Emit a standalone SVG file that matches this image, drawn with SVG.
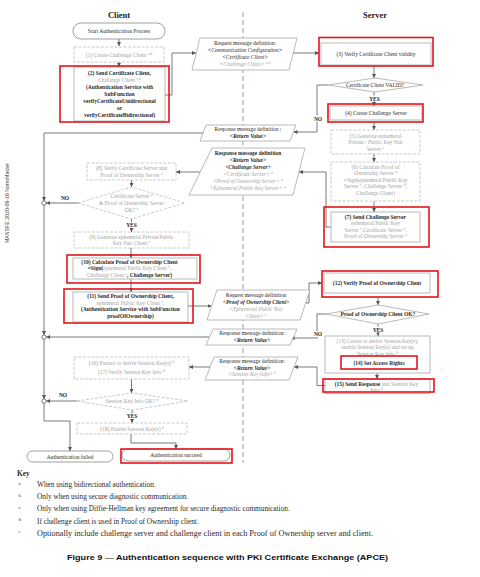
<svg xmlns="http://www.w3.org/2000/svg" width="480" height="577" viewBox="0 0 480 577">
<defs>
<style>
.t{font-family:"Liberation Serif","DejaVu Serif",serif;font-size:5.5px;fill:#2a2a2a;text-anchor:middle}
.g{fill:#a3a3a3}
.b{font-weight:bold}
.i{font-style:italic}
.s{font-size:3.8px}
.box{fill:#fff;stroke:#a8a8a8;stroke-width:0.8}
.dbox{fill:#fff;stroke:#bcbcbc;stroke-width:0.8;stroke-dasharray:3 1.5}
.red{fill:none;stroke:#e4151d;stroke-width:1.6}
.ln{fill:none;stroke:#555;stroke-width:0.8}
.lane{stroke:#9c9c9c;stroke-width:1;stroke-dasharray:5 3}
.lbl{font-family:"Liberation Serif","DejaVu Serif",serif;font-size:5.5px;font-weight:bold;fill:#2a2a2a;text-anchor:middle}
.key{font-family:"Liberation Serif","DejaVu Serif",serif;font-size:7.3px;fill:#2a2a2a}
.ks{font-family:"Liberation Serif","DejaVu Serif",serif;font-size:4.5px;fill:#2a2a2a}
.ttl{font-family:"Liberation Serif","DejaVu Serif",serif;font-size:8.5px;font-weight:bold;fill:#1a1a1a;text-anchor:middle}
</style>
<marker id="ah" viewBox="0 0 6 6" refX="6" refY="3" markerWidth="4" markerHeight="4" orient="auto" markerUnits="userSpaceOnUse"><path d="M0,0 L6,3 L0,6 z" fill="#555"/></marker>
</defs>
<rect width="480" height="577" fill="#fff"/>
<text transform="translate(8.5,243) rotate(-90)" font-family="Liberation Sans,Arial,sans-serif" font-size="6" fill="#444" textLength="80" lengthAdjust="spacingAndGlyphs">MANSFE  2020-06-16  NormMaster</text>
<line class="lane" x1="243" y1="12" x2="243" y2="463"/>
<text class="ttl" x="119" y="18">Client</text>
<text class="ttl" x="375" y="18">Server</text>

<g id="connectors">
<path class="ln" d="M119,39 V46" marker-end="url(#ah)"/>
<path class="ln" d="M119,62 V67" marker-end="url(#ah)"/>
<path class="ln" d="M165,95 H172 V53 H196" marker-end="url(#ah)"/>
<path class="ln" d="M293,53 H319" marker-end="url(#ah)"/>
<path class="ln" d="M374,66 V78" marker-end="url(#ah)"/>
<path class="ln" d="M328,85 H317 V132 H293.5" marker-end="url(#ah)"/>
<path class="ln" d="M374,92 V106" marker-end="url(#ah)"/>
<path class="ln" d="M374,122 V130" marker-end="url(#ah)"/>
<path class="ln" d="M374,154 V162" marker-end="url(#ah)"/>
<path class="ln" d="M374,201 V212" marker-end="url(#ah)" style="stroke:#4d6a98"/>
<path class="ln" d="M331,227 H326 V172 H299" marker-end="url(#ah)"/>
<path class="ln" d="M200,172 H176" marker-end="url(#ah)"/>
<path class="ln" d="M203,133 H44 V201" marker-end="url(#ah)"/>
<path class="ln" d="M131.5,180 V187" marker-end="url(#ah)"/>
<path class="ln" d="M78,203 H46.2" marker-end="url(#ah)"/>
<path class="ln" d="M131.5,219 V232" marker-end="url(#ah)"/>
<path class="ln" d="M131,248 V258" marker-end="url(#ah)"/>
<path class="ln" d="M131,279 V292" marker-end="url(#ah)"/>
<path class="ln" d="M188,306 H211.5" marker-end="url(#ah)"/>
<path class="ln" d="M305.7,303 H309 V283 H322" marker-end="url(#ah)"/>
<path class="ln" d="M378,297 V305" marker-end="url(#ah)"/>
<path class="ln" d="M326,314 H317 V338 H290.5" marker-end="url(#ah)"/>
<path class="ln" d="M209,337 H46.2" marker-end="url(#ah)"/>
<path class="ln" d="M44,205 V335" marker-end="url(#ah)"/>
<path class="ln" d="M378,324 V336" marker-end="url(#ah)"/>
<path class="ln" d="M377,369 V379" marker-end="url(#ah)"/>
<path class="ln" d="M325,385.5 H317 V367 H294" marker-end="url(#ah)"/>
<path class="ln" d="M210,367 H189" marker-end="url(#ah)"/>
<path class="ln" d="M131.5,379 V393" marker-end="url(#ah)"/>
<path class="ln" d="M77,401 H46.2" marker-end="url(#ah)"/>
<path class="ln" d="M44,339 V399" marker-end="url(#ah)"/>
<path class="ln" d="M132,410 V423" marker-end="url(#ah)"/>
<path class="ln" d="M131,434 V443 H176 V449" marker-end="url(#ah)"/>
<path class="ln" d="M44,403 V421 H70 V451" marker-end="url(#ah)"/>
<circle cx="44" cy="203" r="2.2" fill="#fff" stroke="#555" stroke-width="0.8"/>
<circle cx="44" cy="337" r="2.2" fill="#fff" stroke="#555" stroke-width="0.8"/>
<circle cx="44" cy="401" r="2.2" fill="#fff" stroke="#555" stroke-width="0.8"/>
<rect x="312" y="115.5" width="11" height="6" fill="#fff"/>
<text class="lbl" x="318" y="120.5">NO</text>
<rect x="368" y="95.5" width="13" height="6" fill="#fff"/>
<text class="lbl" x="374.5" y="100.5">YES</text>
<text class="lbl" x="65" y="199.5">NO</text>
<rect x="125" y="222" width="13" height="6" fill="#fff"/>
<text class="lbl" x="131.5" y="227">YES</text>
<rect x="312" y="331" width="11" height="6" fill="#fff"/>
<text class="lbl" x="318" y="336">NO</text>
<rect x="371.5" y="326.5" width="13" height="6" fill="#fff"/>
<text class="lbl" x="378" y="331.5">YES</text>
<text class="lbl" x="63" y="396.5">NO</text>
<rect x="125.5" y="413" width="13" height="6" fill="#fff"/>
<text class="lbl" x="132" y="418">YES</text>
</g>

<g id="start">
<rect x="73" y="23" width="92" height="16" rx="8" class="box" style="stroke:#888"/>
<text class="t" x="119" y="33">Start Authentication Process</text>
</g>
<g id="n1">
<rect x="74" y="47" width="90" height="15" class="dbox"/>
<text class="t g" x="119" y="56.5">(1) Create Challenge Client <tspan class="s" baseline-shift="super">a,d</tspan></text>
</g>
<g id="n2">
<rect x="74" y="67" width="91" height="54" class="box"/>
<text class="t b" x="119.5" y="75">(2) Send Certificate Client,</text>
<text class="t g" x="119.5" y="82">Challenge Client <tspan class="s" baseline-shift="super">a,d</tspan></text>
<text class="t b" x="119.5" y="89">(Authentication Service with</text>
<text class="t b" x="119.5" y="96">SubFunction</text>
<text class="t b" x="119.5" y="103">verifyCertificateUnidirectional</text>
<text class="t b" x="119.5" y="110">or</text>
<text class="t b" x="119.5" y="117">verifyCertificateBidirectional)</text>
<rect x="60" y="66" width="109" height="56" class="red"/>
</g>
<g id="req1">
<polygon points="200,38 297,38 289,70 192,70" class="box"/>
<text class="t" x="245" y="45">Request message definition:</text>
<text class="t i" x="245" y="52">&lt;Communication Configuration&gt;</text>
<text class="t i" x="245" y="59">&lt;Certificate Client&gt;</text>
<text class="t i g" x="245" y="66">&lt;Challenge Client&gt; <tspan class="s" baseline-shift="super">a,d</tspan></text>
</g>
<g id="n3">
<rect x="321" y="43" width="110" height="22" class="box"/>
<text class="t" x="376" y="56">(3) Verify Certificate Client validity</text>
<rect x="319" y="37.5" width="114" height="28.5" class="red"/>
</g>
<g id="d1">
<polygon points="328,85 375,78 423,85 375,92" class="box"/>
<text class="t" x="375" y="87">Certificate Client VALID?</text>
</g>
<g id="n4">
<rect x="330" y="106" width="92" height="14" class="box"/>
<text class="t" x="376" y="115">(4) Create Challenge Server</text>
<rect x="328" y="104" width="95" height="18" class="red"/>
</g>
<g id="resp1">
<polygon points="206,125 296,125 290,141 200,141" class="box"/>
<text class="t" x="248" y="131">Response message definition :</text>
<text class="t i b" x="248" y="138">&lt;Return Value&gt;</text>
</g>
<g id="n5">
<rect x="331" y="130" width="89" height="24" class="dbox"/>
<text class="t g" x="375.5" y="137.5">(5) Generate ephemeral</text>
<text class="t g" x="375.5" y="144">Private / Public Key Pair</text>
<text class="t g" x="375.5" y="150.5">Server <tspan class="s" baseline-shift="super">c</tspan></text>
</g>
<g id="n6">
<rect x="331" y="162" width="89" height="39" class="dbox"/>
<text class="t g" x="375.5" y="168.5">(6) Calculate Proof of</text>
<text class="t g" x="375.5" y="175">Ownership Server <tspan class="s" baseline-shift="super">a</tspan></text>
<text class="t g" x="375.5" y="181.5">=Sign(ephemeral Public Key</text>
<text class="t g" x="375.5" y="188">Server <tspan class="s" baseline-shift="super">c</tspan>, Challenge Server <tspan class="s" baseline-shift="super">d</tspan>,</text>
<text class="t g" x="375.5" y="194.5">Challenge Client)</text>
</g>
<g id="n7">
<rect x="331" y="212" width="89" height="30" class="box"/>
<text class="t b" x="375.5" y="218.5">(7) Send Challenge Server</text>
<text class="t g" x="375.5" y="225">ephemeral Public Key</text>
<text class="t g" x="375.5" y="231.5">Server <tspan class="s" baseline-shift="super">c</tspan>,Certificate Server <tspan class="s" baseline-shift="super">a</tspan>,</text>
<text class="t g" x="375.5" y="238">Proof of Ownership Server <tspan class="s" baseline-shift="super">a</tspan></text>
<rect x="324" y="207" width="105" height="40" class="red"/>
</g>
<g id="resp2">
<polygon points="212,148 305,148 293,195 189,195" class="box"/>
<text class="t b" x="248" y="155">Response message definition</text>
<text class="t i b" x="248" y="162">&lt;Return Value&gt;</text>
<text class="t i b" x="248" y="169">&lt;Challenge Server&gt;</text>
<text class="t i g" x="248" y="176">&lt;Certificate Server&gt; <tspan class="s" baseline-shift="super">a</tspan></text>
<text class="t i g" x="248" y="183">&lt;Proof of Ownership Server&gt; <tspan class="s" baseline-shift="super">a</tspan></text>
<text class="t i g" x="248" y="190">&lt;Ephemeral Public Key Server&gt; <tspan class="s" baseline-shift="super">a</tspan></text>
</g>
<g id="n8">
<rect x="87" y="163" width="89" height="17" class="dbox"/>
<text class="t g" x="131.5" y="169.5">(8) Verify Certificate Server and</text>
<text class="t g" x="131.5" y="177">Proof of Ownership Server <tspan class="s" baseline-shift="super">a</tspan></text>
</g>
<g id="d2">
<polygon points="78,203 131.5,187 185,203 131.5,219" class="dbox"/>
<text class="t g" x="131.5" y="198">Certificate Server <tspan class="s" baseline-shift="super">a</tspan></text>
<text class="t g" x="131.5" y="205">&amp; Proof of Ownership Server</text>
<text class="t g" x="131.5" y="212">OK? <tspan class="s" baseline-shift="super">a</tspan></text>
</g>
<g id="n9">
<rect x="74" y="232" width="115" height="16" class="dbox"/>
<text class="t g" x="131.5" y="238.5">(9) Generate ephemeral Private/Public</text>
<text class="t g" x="131.5" y="245">Key Pair Client <tspan class="s" baseline-shift="super">c</tspan></text>
</g>
<g id="n10">
<rect x="73" y="258" width="124" height="21" class="box"/>
<text class="t b" x="129.5" y="263.5">(10) Calculate Proof of Ownership Client</text>
<text class="t" x="129.5" y="270"><tspan class="b">=Sign(</tspan><tspan class="g">ephemeral Public Key Client <tspan class="s" baseline-shift="super">c</tspan>,</tspan></text>
<text class="t" x="129.5" y="276.5"><tspan class="g">Challenge Client <tspan class="s" baseline-shift="super">e</tspan></tspan><tspan class="b">, Challenge Server)</tspan></text>
<rect x="67" y="255" width="133" height="28" class="red"/>
</g>
<g id="n11">
<rect x="73" y="292" width="115" height="30" class="box"/>
<text class="t b" x="130.5" y="298">(11) Send Proof of Ownership Client,</text>
<text class="t g" x="130.5" y="304.5">ephemeral Public Key Client <tspan class="s" baseline-shift="super">c</tspan>,</text>
<text class="t b" x="130.5" y="311">(Authentication Service with SubFunction</text>
<text class="t b" x="130.5" y="317.5">proofOfOwnership)</text>
<rect x="64" y="289" width="129" height="34" class="red"/>
</g>
<g id="req2">
<polygon points="217,290 310,290 300,320 207,320" class="box"/>
<text class="t" x="256" y="297">Request message definition</text>
<text class="t i b" x="256" y="304">&lt;Proof of Ownership Client&gt;</text>
<text class="t i g" x="256" y="311">&lt;Ephemeral Public Key</text>
<text class="t i g" x="256" y="318">Client&gt; <tspan class="s" baseline-shift="super">c</tspan></text>
</g>
<g id="n12">
<rect x="324" y="273" width="106" height="20" class="box"/>
<text class="t b" x="377" y="285">(12) Verify Proof of Ownership Client</text>
<rect x="322" y="271" width="116" height="26" class="red"/>
</g>
<g id="d3">
<polygon points="326,314 378,305 429,314 378,324" class="box"/>
<text class="t b" x="378" y="316">Proof of Ownership Client OK?</text>
</g>
<g id="resp3">
<polygon points="213,329 297,329 290,345 206,345" class="box"/>
<text class="t" x="252" y="334.5">Response message definition:</text>
<text class="t i b" x="252" y="341.5">&lt;Return Value&gt;</text>
</g>
<g id="n13">
<rect x="325" y="336" width="105" height="37" class="box"/>
<text class="t g" x="377.5" y="342.5">(13) Create or derive Session Key(s),</text>
<text class="t g" x="377.5" y="349">enable Session Key(s) and set up</text>
<text class="t g" x="377.5" y="355.5">Session Key Info <tspan class="s" baseline-shift="super">b</tspan></text>
</g>
<g id="n14">
<rect x="341" y="356" width="76" height="13" fill="#fff" class="red"/>
<text class="t b" x="379" y="364.5">(14) Set Access Rights</text>
</g>
<g id="n15">
<rect x="325" y="379" width="105" height="14.5" class="box"/>
<text class="t" x="376.5" y="385.5"><tspan class="b">(15) Send Response</tspan><tspan class="g"> and Session Key</tspan></text>
<text class="t g" x="376.5" y="391.5">Info <tspan class="s" baseline-shift="super">b</tspan></text>
<rect x="323" y="379" width="111" height="13" class="red"/>
</g>
<g id="resp4">
<polygon points="214,357 298,357 289,380 205,380" class="box"/>
<text class="t" x="252" y="363">Response message definition:</text>
<text class="t i b" x="252" y="369.5">&lt;Return Value&gt;</text>
<text class="t i g" x="252" y="376">&lt;Session Key Info&gt; <tspan class="s" baseline-shift="super">b</tspan></text>
</g>
<g id="n16">
<rect x="74" y="357" width="115" height="22" class="dbox"/>
<text class="t g" x="131.5" y="364.5">(16) Extract or derive Session Key(s) <tspan class="s" baseline-shift="super">b</tspan></text>
<text class="t g" x="131.5" y="373.5">(17) Verify Session Key Info <tspan class="s" baseline-shift="super">b</tspan></text>
</g>
<g id="d4">
<polygon points="77,401 132,393 188,401 132,410" class="dbox"/>
<text class="t g" x="132" y="403">Session Key Info OK? <tspan class="s" baseline-shift="super">b</tspan></text>
</g>
<g id="n18">
<rect x="77" y="423" width="110" height="11" class="dbox"/>
<text class="t g" x="132" y="430.5">(18) Enable Session Key(s) <tspan class="s" baseline-shift="super">b</tspan></text>
</g>
<g id="fail">
<rect x="27" y="451" width="86" height="11" rx="5.5" class="box" style="stroke:#888"/>
<text class="t" x="70" y="458.5">Authentication failed</text>
</g>
<g id="succeed">
<rect x="122" y="449" width="108" height="12" rx="6" class="box" style="stroke:#888"/>
<text class="t" x="176" y="457">Authentication succeed</text>
<rect x="121" y="449" width="111" height="14" class="red"/>
</g>

<g id="key">
<text class="key" x="17" y="476" font-weight="bold">Key</text>
<text class="ks" x="18.5" y="484.5">a</text>
<text class="key" x="37" y="486.5">When using bidirectional authentication.</text>
<text class="ks" x="18.5" y="496.5">b</text>
<text class="key" x="37" y="498.5">Only when using secure diagnostic communication.</text>
<text class="ks" x="18.5" y="509">c</text>
<text class="key" x="37" y="511">Only when using Diffie-Hellman key agreement for secure diagnostic communication.</text>
<text class="ks" x="18.5" y="521">d</text>
<text class="key" x="37" y="523.5">If challenge client is used in Proof of Ownership client.</text>
<text class="ks" x="18.5" y="533">e</text>
<text class="key" x="37" y="535.5" textLength="336" lengthAdjust="spacingAndGlyphs">Optionally include challenge server and challenge client in each Proof of Ownership server and client.</text>
<text x="227.5" y="560" font-family="Liberation Sans,Arial,sans-serif" font-size="8" font-weight="bold" fill="#111" text-anchor="middle" textLength="321" lengthAdjust="spacingAndGlyphs">Figure 9 — Authentication sequence with PKI Certificate Exchange (APCE)</text>
</g>
</svg>
